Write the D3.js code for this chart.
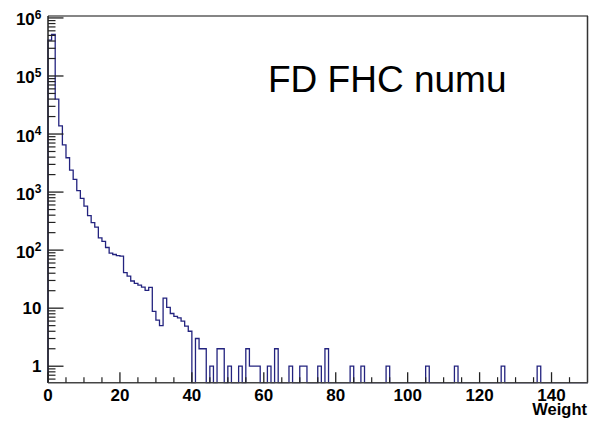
<!DOCTYPE html>
<html>
<head>
<meta charset="utf-8">
<script src="https://cdn.jsdelivr.net/npm/d3@7"></script>
<style>
  body { margin: 0; background: #fff; }
  svg { display: block; }
  text { font-family: "Liberation Sans", Arial, Helvetica, sans-serif; }
</style>
</head>
<body>
<svg id="chart" width="589" height="422"></svg>
<script>
// Histogram of event weights, 150 bins of width 1 from 0 to 150
const binStart = 0;
const binWidth = 1;
const weightCounts = [
  416000, 520000, 39800, 13800, 6520, 3900, 2380, 1650, 1060, 780,
  572, 393, 298, 249, 163, 142, 111, 88.5, 84, 80.7,
  79, 41, 35.6, 29.4, 26.7, 24.9, 23.1, 20.2, 22.8, 8.8,
  6.2, 5.0, 14.9, 10.3, 8.1, 7.2, 6.8, 6.0, 4.9, 4.0,
  0, 3, 2, 2, 0, 1, 0, 2, 2, 0,
  1, 0, 0, 1, 0, 2, 1, 1, 1, 0,
  0, 1, 0, 2, 0, 0, 0, 1, 0, 0,
  1, 1, 0, 0, 0, 1, 0, 2, 0, 0,
  0, 0, 0, 0, 1, 0, 0, 1, 0, 0,
  0, 0, 0, 0, 1, 0, 0, 0, 0, 0,
  0, 0, 0, 0, 0, 1, 0, 0, 0, 0,
  0, 0, 0, 1, 0, 0, 0, 0, 0, 0,
  0, 0, 0, 0, 0, 0, 1, 0, 0, 0,
  0, 0, 0, 0, 0, 0, 1, 0, 0, 0,
  0, 0, 0, 0, 0, 0, 0, 0, 0, 0
];
const xDomain = [0, 150];
const yDomain = [0.52, 1.08e6];
const xMajorTicks = [0, 20, 40, 60, 80, 100, 120, 140];
const xMinorTicks = [5, 10, 15, 25, 30, 35, 45, 50, 55, 65, 70, 75, 85, 90, 95,
                     105, 110, 115, 125, 130, 135, 145];
const yDecadeTicks = [1, 10, 100, 1e3, 1e4, 1e5, 1e6];
const yDecadeExponents = [0, 1, 2, 3, 4, 5, 6];
const titleText = "FD FHC numu";
const xAxisTitle = "Weight";

const svg = d3.select("#chart");
const plotLeft = 48, plotRight = 587.5, plotTop = 16, plotBottom = 382.7;

const x = d3.scaleLinear().domain(xDomain).range([plotLeft, plotRight]);
const y = d3.scaleLog().domain(yDomain).range([plotBottom, plotTop]);

// Minor log ticks: 2..9 times each decade, inside the visible range
const yMinorTicks = [];
[0.1, 1, 10, 100, 1e3, 1e4, 1e5].forEach(d => {
  for (let k = 2; k <= 9; k++) {
    const v = d * k;
    if (v >= yDomain[0] && v <= yDomain[1]) yMinorTicks.push(v);
  }
});

// Histogram outline (step shape), empty bins drawn along the bottom edge
const yFloor = yDomain[0];
const pts = [[x(binStart), y(yFloor)]];
weightCounts.forEach((c, i) => {
  const v = Math.max(c, yFloor);
  const x0 = binStart + i * binWidth, x1 = x0 + binWidth;
  pts.push([x(x0), y(v)], [x(x1), y(v)]);
});
pts.push([x(binStart + weightCounts.length * binWidth), y(yFloor)]);

svg.append("path")
  .attr("d", d3.line()(pts))
  .attr("fill", "none")
  .attr("stroke", "#23237f")
  .attr("stroke-width", 1.3)
  .attr("stroke-linejoin", "miter");

// Frame
svg.append("line").attr("x1", plotLeft).attr("x2", plotRight + 0.5).attr("y1", plotTop).attr("y2", plotTop)
  .attr("stroke", "#858585").attr("stroke-width", 2);
svg.append("line").attr("x1", plotRight).attr("x2", plotRight).attr("y1", plotTop).attr("y2", plotBottom)
  .attr("stroke", "#333").attr("stroke-width", 1.5);

// Y axis: ticks point into the plot
const axisColor = "#222";
const yAxisG = svg.append("g");
yAxisG.append("line").attr("x1", plotLeft).attr("x2", plotLeft).attr("y1", plotTop).attr("y2", plotBottom)
  .attr("stroke", axisColor).attr("stroke-width", 1.5);
yAxisG.selectAll("line.ymaj").data(yDecadeTicks).join("line")
  .attr("class", "ymaj")
  .attr("x1", plotLeft).attr("x2", plotLeft + 15.5)
  .attr("y1", d => y(d)).attr("y2", d => y(d))
  .attr("stroke", axisColor).attr("stroke-width", 1.3);
yAxisG.selectAll("line.ymin").data(yMinorTicks).join("line")
  .attr("class", "ymin")
  .attr("x1", plotLeft).attr("x2", plotLeft + 7.5)
  .attr("y1", d => y(d)).attr("y2", d => y(d))
  .attr("stroke", axisColor).attr("stroke-width", 1.2);

// Y labels: 1, 10, then 10^n
yDecadeTicks.forEach((d, i) => {
  const e = yDecadeExponents[i];
  const t = svg.append("text")
    .attr("x", 41.5)
    .attr("text-anchor", "end")
    .attr("font-size", 17)
    .attr("font-weight", "bold")
    .attr("fill", "#000");
  if (e <= 1) {
    t.attr("y", y(d) + 6).text(e === 0 ? "1" : "10");
  } else {
    t.attr("y", y(d) + 7.5);
    t.append("tspan").text("10");
    t.append("tspan").attr("dy", -6.5).attr("font-size", 12).text(String(e));
  }
});

// X axis: ticks point up into the plot
const xAxisG = svg.append("g");
xAxisG.append("line").attr("x1", plotLeft).attr("x2", plotRight + 0.5).attr("y1", plotBottom).attr("y2", plotBottom)
  .attr("stroke", "#444").attr("stroke-width", 1.6);
xAxisG.selectAll("line.xmaj").data(xMajorTicks).join("line")
  .attr("class", "xmaj")
  .attr("x1", d => x(d)).attr("x2", d => x(d))
  .attr("y1", plotBottom).attr("y2", plotBottom - 10.5)
  .attr("stroke", axisColor).attr("stroke-width", 1.3);
xAxisG.selectAll("line.xmin").data(xMinorTicks).join("line")
  .attr("class", "xmin")
  .attr("x1", d => x(d)).attr("x2", d => x(d))
  .attr("y1", plotBottom).attr("y2", plotBottom - 5.5)
  .attr("stroke", axisColor).attr("stroke-width", 1.2);
xAxisG.selectAll("text").data(xMajorTicks).join("text")
  .attr("x", d => x(d))
  .attr("y", 401)
  .attr("text-anchor", "middle")
  .attr("font-size", 17)
  .attr("font-weight", "bold")
  .attr("fill", "#000")
  .text(d => d);

svg.append("text")
  .attr("x", 587).attr("y", 415)
  .attr("text-anchor", "end")
  .attr("font-size", 16.5).attr("font-weight", "bold")
  .attr("fill", "#000")
  .text(xAxisTitle);

// Title inside the plot
svg.append("text")
  .attr("x", 268).attr("y", 91.5)
  .attr("font-size", 37)
  .attr("fill", "#000")
  .text(titleText);
</script>
</body>
</html>
